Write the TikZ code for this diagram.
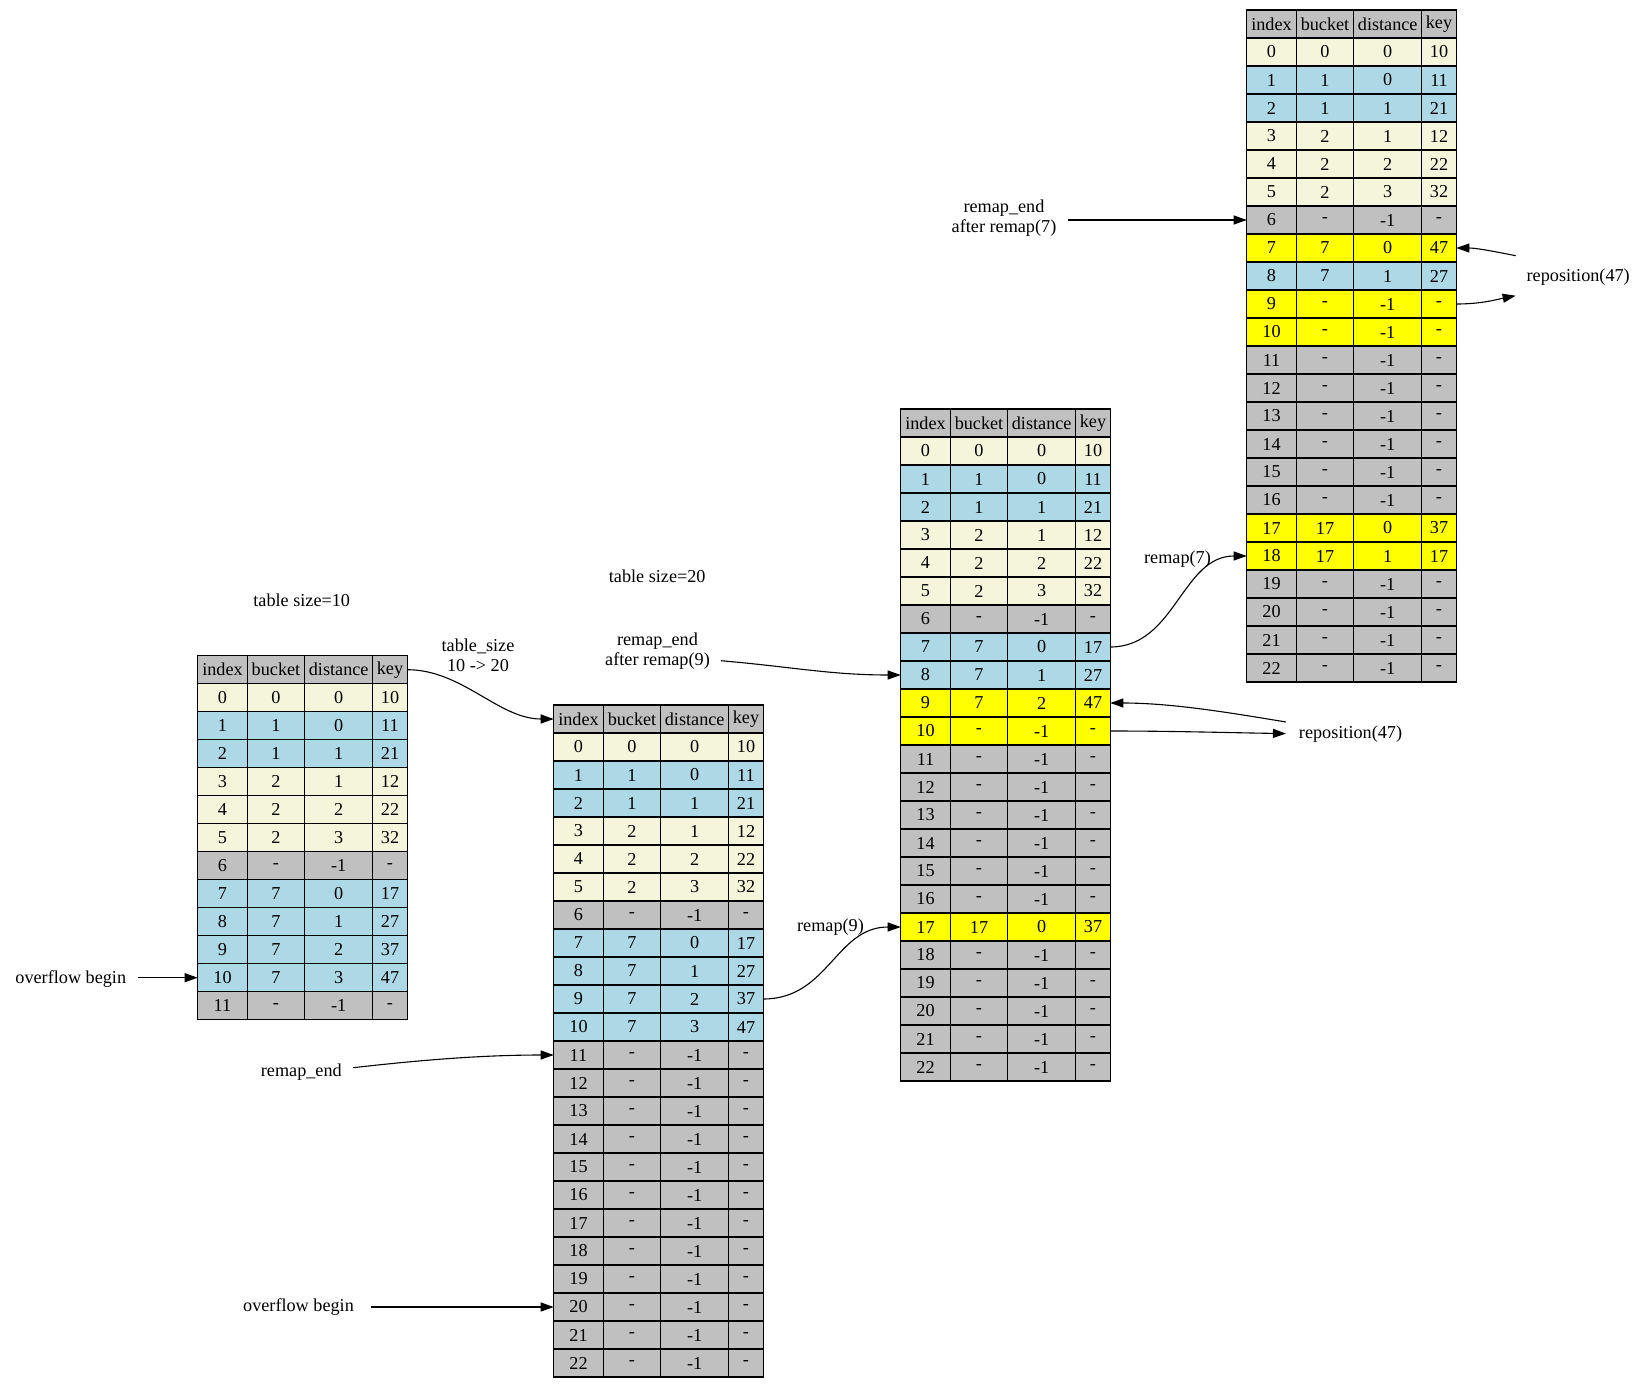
\documentclass[tikz,border=0pt]{standalone}
\usepackage{fontspec}
\setmainfont{Liberation Serif}
\usetikzlibrary{arrows.meta}
\definecolor{cg}{HTML}{C0C0C0}
\definecolor{cb}{HTML}{F5F5DC}
\definecolor{cl}{HTML}{ADD8E6}
\definecolor{cy}{HTML}{FFFF00}
\newcommand\cellfont{\fontsize{18.2pt}{20pt}\selectfont}
\tikzset{
  cell/.style={draw=black, line width=1.1pt, inner sep=0pt, outer sep=0pt,
    minimum height=28pt, anchor=north west, font=\cellfont},
  lab/.style={inner sep=0pt, outer sep=0pt, align=center, font=\cellfont},
  arr/.style={-{Triangle[length=13pt,width=9pt]}, line width=1.1pt, black},
}
\newcommand\drawtable[4]{%
  \foreach \rc/\ri/\rb/\rd/\rk [count=\n from -1] in {#4} {
    \pgfmathsetmacro\yy{#3+28*(\n+1)}
    \node[cell,fill=\rc,minimum width=49.6pt] (#1-\n-i) at (#2,\yy) {\ri};
    \node[cell,fill=\rc,minimum width=57.4pt] (#1-\n-b) at (#2+49.6,\yy) {\rb};
    \node[cell,fill=\rc,minimum width=68pt] (#1-\n-d) at (#2+107,\yy) {\rd};
    \node[cell,fill=\rc,minimum width=34.6pt] (#1-\n-k) at (#2+175,\yy) {\rk};
  }}
\begin{document}
\begin{tikzpicture}[x=1pt,y=-1pt]
\fill[white] (0,0) rectangle (1651,1388);
\useasboundingbox (0,0) rectangle (1651,1388);

% table 1
\drawtable{T1}{197.7}{655.7}{cg/index/bucket/distance/key,
  cb/0/0/0/10, cl/1/1/0/11, cl/2/1/1/21, cb/3/2/1/12, cb/4/2/2/22, cb/5/2/3/32, cg/6/-/-1/-,
  cl/7/7/0/17, cl/8/7/1/27, cl/9/7/2/37, cl/10/7/3/47, cg/11/-/-1/-}
% table 2
\drawtable{T2}{553.7}{705}{cg/index/bucket/distance/key,
  cb/0/0/0/10, cl/1/1/0/11, cl/2/1/1/21, cb/3/2/1/12, cb/4/2/2/22, cb/5/2/3/32, cg/6/-/-1/-,
  cl/7/7/0/17, cl/8/7/1/27, cl/9/7/2/37, cl/10/7/3/47,
  cg/11/-/-1/-, cg/12/-/-1/-, cg/13/-/-1/-, cg/14/-/-1/-, cg/15/-/-1/-, cg/16/-/-1/-,
  cg/17/-/-1/-, cg/18/-/-1/-, cg/19/-/-1/-, cg/20/-/-1/-, cg/21/-/-1/-, cg/22/-/-1/-}
% table 3
\drawtable{T3}{900.7}{409}{cg/index/bucket/distance/key,
  cb/0/0/0/10, cl/1/1/0/11, cl/2/1/1/21, cb/3/2/1/12, cb/4/2/2/22, cb/5/2/3/32, cg/6/-/-1/-,
  cl/7/7/0/17, cl/8/7/1/27, cy/9/7/2/47, cy/10/-/-1/-,
  cg/11/-/-1/-, cg/12/-/-1/-, cg/13/-/-1/-, cg/14/-/-1/-, cg/15/-/-1/-, cg/16/-/-1/-,
  cy/17/17/0/37, cg/18/-/-1/-, cg/19/-/-1/-, cg/20/-/-1/-, cg/21/-/-1/-, cg/22/-/-1/-}
% table 4
\drawtable{T4}{1246.7}{10}{cg/index/bucket/distance/key,
  cb/0/0/0/10, cl/1/1/0/11, cl/2/1/1/21, cb/3/2/1/12, cb/4/2/2/22, cb/5/2/3/32, cg/6/-/-1/-,
  cy/7/7/0/47, cl/8/7/1/27, cy/9/-/-1/-, cy/10/-/-1/-,
  cg/11/-/-1/-, cg/12/-/-1/-, cg/13/-/-1/-, cg/14/-/-1/-, cg/15/-/-1/-, cg/16/-/-1/-,
  cy/17/17/0/37, cy/18/17/1/17, cg/19/-/-1/-, cg/20/-/-1/-, cg/21/-/-1/-, cg/22/-/-1/-}

% labels
\node[lab] (sz10) at (301.7,600.7) {table size=10};
\node[lab] (tsz) at (478,655) {table\_size\\ 10 -> 20};
\node[lab] (sz20) at (657.2,576.7) {table size=20};
\node[lab,inner xsep=11pt] (re9) at (657.5,651) {remap\_end\\after remap(9)};
\node[lab,inner xsep=11.5pt] (re7) at (1004,218.4) {remap\_end\\after remap(7)};
\node[lab] (rm7) at (1177.5,559.3) {remap(7)};
\node[lab] (rm9) at (830.5,927.3) {remap(9)};
\node[lab,inner xsep=12pt] (ovf1) at (70.8,979) {overflow begin};
\node[lab,inner xsep=11.5pt] (rme) at (301.3,1072.3) {remap\_end};
\node[lab,inner xsep=17pt] (ovf2) at (298.5,1307.3) {overflow begin};
\node[lab,inner xsep=13pt] (rp3) at (1350.5,734.6) {reposition(47)};
\node[lab,inner xsep=11pt] (rp4) at (1578.2,276.7) {reposition(47)};

% connectors
\draw[arr] (T1--1-k.east) .. controls +(55,0) and +(-55,0) .. (T2--1-i.west);
\draw[arr] (T2-9-k.east) .. controls +(65,0) and +(-65,0) .. (T3-17-i.west);
\draw[arr] (T3-7-k.east) .. controls +(65,0) and +(-65,0) .. (T4-18-i.west);
\draw[arr] ([yshift=-9.7pt]re9.east) .. controls +(70,6) and +(-70,0) .. (T3-8-i.west);
\draw[arr] (re7.east |- T4-6-i.west) -- (T4-6-i.west);
\draw[arr] (ovf1.east |- T1-10-i.west) -- (T1-10-i.west);
\draw[arr] (ovf2.east |- T2-20-i.west) -- (T2-20-i.west);
\draw[arr] ([yshift=4.6pt]rme.east) .. controls +(70,-8) and +(-70,0) .. (T2-11-i.west);
\draw[arr] ([yshift=12.6pt]rp3.west) .. controls +(-60,-10) and +(60,0) .. (T3-9-k.east);
\draw[arr] (T3-10-k.east) .. controls +(60,0) and +(-60,-1) .. ([yshift=1pt]rp3.west);
\draw[arr] ([yshift=21pt]rp4.west) .. controls +(-20,-4) and +(20,0) .. (T4-7-k.east);
\draw[arr] (T4-9-k.east) .. controls +(25,0) and +(-20,4) .. ([yshift=-19pt]rp4.west);
\end{tikzpicture}
\end{document}
